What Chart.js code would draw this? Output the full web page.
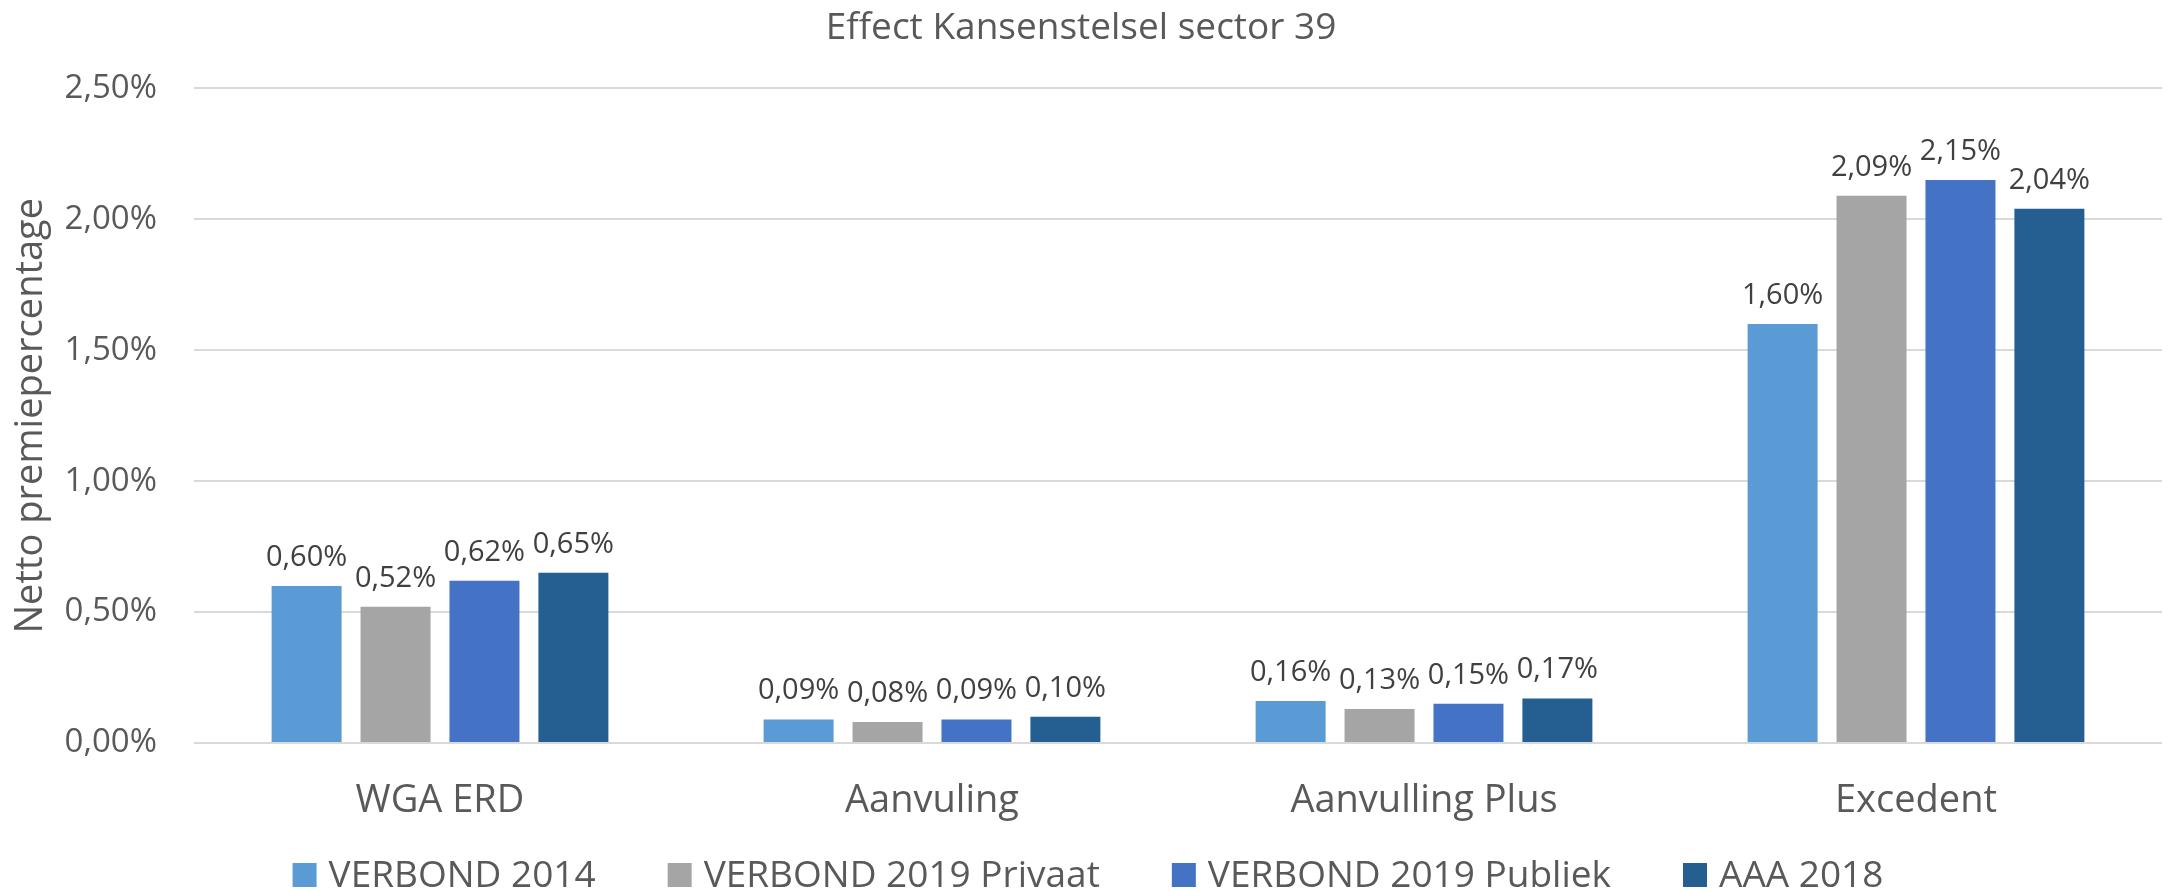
<!DOCTYPE html>
<html>
<head>
<meta charset="utf-8">
<script src="https://cdn.jsdelivr.net/npm/chart.js@4.4.1/dist/chart.umd.min.js"></script>
<style>
  html, body { margin: 0; padding: 0; background: #fff; }
  #wrap { width: 2168px; height: 891px; }
</style>
</head>
<body>
<div id="wrap"><canvas id="chart"></canvas></div>
<script>
const categories = ["WGA ERD", "Aanvuling", "Aanvulling Plus", "Excedent"];
const seriesNames = ["VERBOND 2014", "VERBOND 2019 Privaat", "VERBOND 2019 Publiek", "AAA 2018"];
const verbond2014 = [0.60, 0.09, 0.16, 1.60];
const verbond2019Privaat = [0.52, 0.08, 0.13, 2.09];
const verbond2019Publiek = [0.62, 0.09, 0.15, 2.15];
const aaa2018 = [0.65, 0.10, 0.17, 2.04];
const seriesColors = ["#5B9BD5", "#A5A5A5", "#4472C4", "#255E91"];

const FONT = "'Open Sans'";

function pct(v) {
    return v.toFixed(2).replace(".", ",") + "%";
}

// value above each bar
const valueLabels = {
    id: "valueLabels",
    afterDatasetsDraw(chart) {
        const ctx = chart.ctx;
        ctx.save();
        ctx.font = "29px " + FONT;
        ctx.fillStyle = "#404040";
        ctx.textAlign = "center";
        ctx.textBaseline = "alphabetic";
        chart.data.datasets.forEach((ds, i) => {
            chart.getDatasetMeta(i).data.forEach((bar, j) => {
                ctx.fillText(pct(ds.data[j]), bar.x, bar.y - 20);
            });
        });
        ctx.restore();
    }
};

// legend along the bottom, drawn by hand so its spacing can match
const bottomLegend = {
    id: "bottomLegend",
    afterDraw(chart) {
        const ctx = chart.ctx;
        ctx.save();
        ctx.font = "37px " + FONT;
        const box = 24, gapText = 12, gapItem = 72;
        const widths = chart.data.datasets.map(ds => ctx.measureText(ds.label).width);
        let total = 0;
        widths.forEach((w, i) => { total += box + gapText + w + (i < widths.length - 1 ? gapItem : 0); });
        let x = 1088 - total / 2;
        chart.data.datasets.forEach((ds, i) => {
            ctx.fillStyle = ds.backgroundColor;
            ctx.fillRect(x, 863, box, box);
            ctx.fillStyle = "#595959";
            ctx.textBaseline = "alphabetic";
            ctx.textAlign = "left";
            ctx.fillText(ds.label, x + box + gapText, 887);
            x += box + gapText + widths[i] + gapItem;
        });
        ctx.restore();
    }
};

const allSeries = [verbond2014, verbond2019Privaat, verbond2019Publiek, aaa2018];

new Chart(document.getElementById("chart"), {
    type: "bar",
    data: {
        labels: categories,
        datasets: allSeries.map((d, i) => ({
            label: seriesNames[i],
            data: d,
            backgroundColor: seriesColors[i],
            categoryPercentage: 0.723,
            barPercentage: 0.787
        }))
    },
    options: {
        responsive: true,
        maintainAspectRatio: false,
        animation: false,
        layout: { padding: { left: 0, right: 6, top: 0, bottom: 68 } },
        plugins: {
            title: {
                display: true,
                text: "Effect Kansenstelsel sector 39",
                color: "#595959",
                font: { family: FONT, size: 37, weight: "normal" },
                padding: { top: 6, bottom: 38 }
            },
            legend: { display: false },
            tooltip: { enabled: false }
        },
        scales: {
            x: {
                grid: { display: false, drawTicks: false },
                border: { display: false },
                ticks: {
                    color: "#595959",
                    font: { family: FONT, size: 38 },
                    padding: 35
                },
                afterFit: scale => { scale.height = 80; }
            },
            y: {
                min: 0,
                max: 2.5,
                border: { display: false },
                grid: { color: "#D9D9D9", lineWidth: 2, drawTicks: false },
                ticks: {
                    stepSize: 0.5,
                    color: "#595959",
                    font: { family: FONT, size: 33 },
                    padding: 37,
                    callback: v => pct(v)
                },
                title: {
                    display: true,
                    text: "Netto premiepercentage",
                    color: "#595959",
                    font: { family: FONT, size: 38 },
                    padding: { top: 8, bottom: 6 }
                },
                afterFit: scale => { scale.width = 194; }
            }
        }
    },
    plugins: [valueLabels, bottomLegend]
});
</script>
</body>
</html>
